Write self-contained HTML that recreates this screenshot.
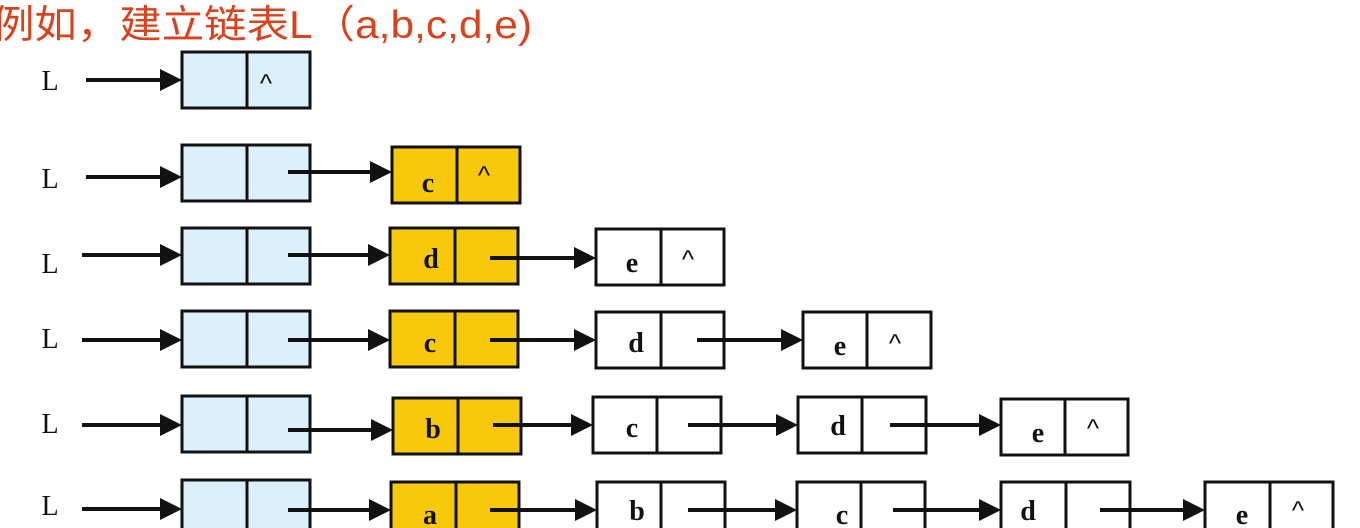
<!DOCTYPE html>
<html><head><meta charset="utf-8"><style>
html,body{margin:0;padding:0;background:#fff;width:1360px;height:528px;overflow:hidden}
svg{display:block}
.t{font-family:"Liberation Serif",serif;font-size:28px;fill:#111;text-anchor:middle;font-weight:bold}
.l{font-family:"Liberation Serif",serif;font-size:28px;fill:#111;text-anchor:middle}
.c{font-family:"Liberation Sans",sans-serif;font-size:26px;fill:#111;text-anchor:middle}
</style></head><body>
<svg width="1360" height="528" viewBox="0 0 1360 528" xmlns="http://www.w3.org/2000/svg">
<text x="-8" y="38" style="font-family:'Liberation Sans','Noto Sans CJK SC',sans-serif;font-size:39px;fill:#d8421c" textLength="540" lengthAdjust="spacingAndGlyphs">例如，建立链表L（a,b,c,d,e)</text>
<g stroke="#111" stroke-width="3" fill="none">
<rect x="182" y="52" width="128" height="56" fill="#dcf0fb"/><line x1="247" y1="52" x2="247" y2="108"/>
<rect x="182" y="145" width="128" height="56" fill="#dcf0fb"/><line x1="247" y1="145" x2="247" y2="201"/>
<rect x="392" y="147" width="128" height="56" fill="#f8c90a"/><line x1="457" y1="147" x2="457" y2="203"/>
<rect x="182" y="228" width="128" height="56" fill="#dcf0fb"/><line x1="247" y1="228" x2="247" y2="284"/>
<rect x="390" y="228" width="128" height="56" fill="#f8c90a"/><line x1="455" y1="228" x2="455" y2="284"/>
<rect x="596" y="229" width="128" height="56" fill="#fff"/><line x1="661" y1="229" x2="661" y2="285"/>
<rect x="182" y="311" width="128" height="56" fill="#dcf0fb"/><line x1="247" y1="311" x2="247" y2="367"/>
<rect x="390" y="311" width="128" height="56" fill="#f8c90a"/><line x1="455" y1="311" x2="455" y2="367"/>
<rect x="596" y="312" width="128" height="56" fill="#fff"/><line x1="661" y1="312" x2="661" y2="368"/>
<rect x="803" y="312" width="128" height="56" fill="#fff"/><line x1="867" y1="312" x2="867" y2="368"/>
<rect x="182" y="396" width="128" height="56" fill="#dcf0fb"/><line x1="247" y1="396" x2="247" y2="452"/>
<rect x="393" y="398" width="128" height="56" fill="#f8c90a"/><line x1="458" y1="398" x2="458" y2="454"/>
<rect x="593" y="397" width="128" height="56" fill="#fff"/><line x1="657" y1="397" x2="657" y2="453"/>
<rect x="798" y="397" width="128" height="56" fill="#fff"/><line x1="862" y1="397" x2="862" y2="453"/>
<rect x="1001" y="399" width="127" height="56" fill="#fff"/><line x1="1065" y1="399" x2="1065" y2="455"/>
<rect x="182" y="480" width="128" height="56" fill="#dcf0fb"/><line x1="247" y1="480" x2="247" y2="536"/>
<rect x="391" y="482" width="128" height="56" fill="#f8c90a"/><line x1="456" y1="482" x2="456" y2="538"/>
<rect x="597" y="482" width="128" height="56" fill="#fff"/><line x1="661" y1="482" x2="661" y2="538"/>
<rect x="797" y="482" width="128" height="56" fill="#fff"/><line x1="861" y1="482" x2="861" y2="538"/>
<rect x="1001" y="482" width="129" height="56" fill="#fff"/><line x1="1066" y1="482" x2="1066" y2="538"/>
<rect x="1205" y="482" width="128" height="56" fill="#fff"/><line x1="1270" y1="482" x2="1270" y2="538"/>
</g>
<g stroke="#111" stroke-width="4">
<line x1="86" y1="80" x2="164" y2="80"/>
<line x1="86" y1="177" x2="164" y2="177"/><line x1="288" y1="172" x2="374" y2="172"/>
<line x1="82" y1="255" x2="164" y2="255"/><line x1="288" y1="255" x2="372" y2="255"/><line x1="490" y1="258" x2="578" y2="258"/>
<line x1="82" y1="340" x2="164" y2="340"/><line x1="288" y1="340" x2="372" y2="340"/><line x1="490" y1="340" x2="578" y2="340"/><line x1="697" y1="340" x2="785" y2="340"/>
<line x1="82" y1="425" x2="164" y2="425"/><line x1="288" y1="430" x2="375" y2="430"/><line x1="493" y1="425" x2="575" y2="425"/><line x1="688" y1="425" x2="780" y2="425"/><line x1="890" y1="425" x2="983" y2="425"/>
<line x1="82" y1="509" x2="164" y2="509"/><line x1="288" y1="510" x2="373" y2="510"/><line x1="490" y1="510" x2="580" y2="510"/><line x1="688" y1="510" x2="780" y2="510"/><line x1="893" y1="510" x2="984" y2="510"/><line x1="1100" y1="510" x2="1188" y2="510"/>
</g>
<g fill="#111">
<polygon points="160,69 182,80 160,91"/>
<polygon points="160,166 182,177 160,188"/><polygon points="370,161 392,172 370,183"/>
<polygon points="160,244 182,255 160,266"/><polygon points="368,244 390,255 368,266"/><polygon points="574,247 596,258 574,269"/>
<polygon points="160,329 182,340 160,351"/><polygon points="368,329 390,340 368,351"/><polygon points="574,329 596,340 574,351"/><polygon points="781,329 803,340 781,351"/>
<polygon points="160,414 182,425 160,436"/><polygon points="371,419 393,430 371,441"/><polygon points="571,414 593,425 571,436"/><polygon points="776,414 798,425 776,436"/><polygon points="979,414 1001,425 979,436"/>
<polygon points="160,498 182,509 160,520"/><polygon points="369,499 391,510 369,521"/><polygon points="575,499 597,510 575,521"/><polygon points="775,499 797,510 775,521"/><polygon points="979,499 1001,510 979,521"/><polygon points="1183,499 1205,510 1183,521"/>
</g>
<text class="l" x="50" y="90">L</text>
<text class="l" x="50" y="188">L</text>
<text class="l" x="50" y="273">L</text>
<text class="l" x="50" y="348">L</text>
<text class="l" x="50" y="433">L</text>
<text class="l" x="50" y="515">L</text>
<text class="t" x="428" y="192">c</text>
<text class="t" x="431" y="268">d</text>
<text class="t" x="632" y="272">e</text>
<text class="t" x="430" y="352">c</text>
<text class="t" x="636" y="352">d</text>
<text class="t" x="840" y="355">e</text>
<text class="t" x="433" y="438">b</text>
<text class="t" x="632" y="437">c</text>
<text class="t" x="838" y="435">d</text>
<text class="t" x="1038" y="442">e</text>
<text class="t" x="430" y="524">a</text>
<text class="t" x="637" y="520">b</text>
<text class="t" x="842" y="524">c</text>
<text class="t" x="1028" y="520">d</text>
<text class="t" x="1242" y="524">e</text>
<text class="c" x="266" y="92">^</text>
<text class="c" x="484" y="184">^</text>
<text class="c" x="688" y="268">^</text>
<text class="c" x="895" y="352">^</text>
<text class="c" x="1093" y="437">^</text>
<text class="c" x="1298" y="519">^</text>
</svg>
</body></html>
